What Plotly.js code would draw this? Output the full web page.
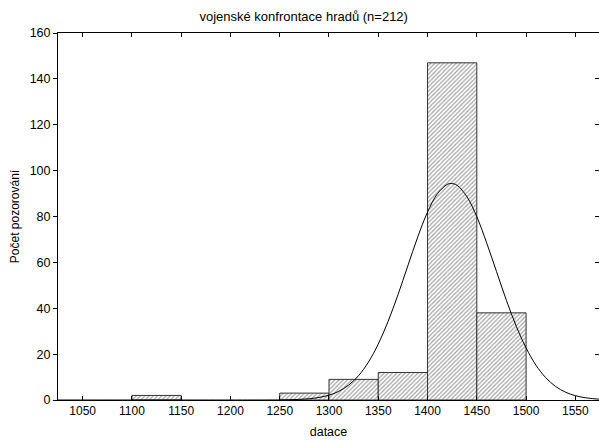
<!DOCTYPE html>
<html>
<head>
<meta charset="utf-8">
<script src="https://cdn.plot.ly/plotly-3.0.1.min.js"></script>
<style>html,body{margin:0;padding:0;overflow:hidden;background:#fff}</style>
</head>
<body>
<div id="chart" style="width:599px;height:441px"></div>
<script>
// Histogram bins (start of each 50-year bin) and counts
const binStart = [1100, 1250, 1300, 1350, 1400, 1450];
const binCount = [2, 3, 9, 12, 147, 38];
const binWidth = 50;

// Fitted normal curve
const curveX = [1025, 1100, 1200, 1240, 1250, 1260, 1270, 1280, 1290, 1300, 1310, 1320, 1330, 1340, 1350, 1360, 1370, 1380, 1390, 1400, 1410, 1420, 1424, 1430, 1440, 1450, 1460, 1470, 1480, 1490, 1500, 1510, 1520, 1530, 1540, 1550, 1560, 1570, 1575];
const curveY = [0, 0, 0, 0.02, 0.05, 0.12, 0.27, 0.56, 1.12, 2.1, 3.8, 6.5, 10.6, 16.5, 24.4, 34.3, 45.9, 58.5, 71.0, 81.9, 89.9, 94.0, 94.4, 93.6, 88.6, 79.9, 68.5, 56.0, 43.5, 32.2, 22.7, 15.2, 9.7, 5.9, 3.4, 1.9, 1.0, 0.5, 0.34];

const titleText = 'vojenské konfrontace hradů (n=212)';
const xTitle = 'datace';
const yTitle = 'Počet pozorování';

const font = 'Liberation Sans, Arial, sans-serif';

const traces = [
  {
    type: 'bar',
    x: binStart,
    y: binCount,
    width: binWidth,
    offset: 0,
    marker: {
      color: '#ffffff',
      pattern: {shape: '/', fgcolor: '#a4a4a4', bgcolor: '#ffffff', size: 3, solidity: 0.4},
      line: {color: '#333333', width: 1}
    },
    hoverinfo: 'skip'
  },
  {
    type: 'scatter',
    mode: 'lines',
    x: curveX,
    y: curveY,
    line: {color: '#000000', width: 1, shape: 'spline'},
    hoverinfo: 'skip'
  },
  {
    type: 'scatter',
    mode: 'lines',
    x: [1025],
    y: [0],
    yaxis: 'y2',
    showlegend: false,
    hoverinfo: 'skip',
    line: {width: 0}
  }
];

const layout = {
  width: 599,
  height: 441,
  margin: {l: 58, r: 0, t: 33, b: 41},
  paper_bgcolor: '#ffffff',
  plot_bgcolor: '#ffffff',
  showlegend: false,
  font: {family: font, size: 12, color: '#000'},
  title: {
    text: titleText,
    x: 0.507, xref: 'container', xanchor: 'center',
    y: 0.963, yref: 'container', yanchor: 'middle',
    font: {family: font, size: 13, color: '#000'}
  },
  xaxis: {
    range: [1025, 1574],
    tick0: 1050, dtick: 50,
    ticks: 'inside', ticklen: 4, tickcolor: '#000', tickwidth: 1,
    showline: true, linecolor: '#000', linewidth: 1,
    mirror: 'ticks',
    showgrid: false, zeroline: false,
    tickfont: {family: font, size: 12, color: '#000'},
    title: {text: xTitle, font: {family: font, size: 12.5, color: '#000'}, standoff: 9}
  },
  yaxis: {
    range: [0, 160],
    tick0: 0, dtick: 20,
    ticks: 'outside', ticklen: 4, tickcolor: '#000', tickwidth: 1,
    showline: true, linecolor: '#000', linewidth: 1,
    showgrid: false, zeroline: false,
    tickfont: {family: font, size: 12.5, color: '#000'},
    title: {text: yTitle, font: {family: font, size: 12, color: '#000'}, standoff: 7}
  },
  yaxis2: {
    overlaying: 'y',
    side: 'right',
    range: [0, 160],
    tick0: 0, dtick: 20,
    ticks: 'inside', ticklen: 4, tickcolor: '#000',
    showline: false,
    showticklabels: false,
    showgrid: false, zeroline: false
  },
  bargap: 0
};

Plotly.newPlot('chart', traces, layout, {displayModeBar: false, staticPlot: true});
</script>
</body>
</html>
